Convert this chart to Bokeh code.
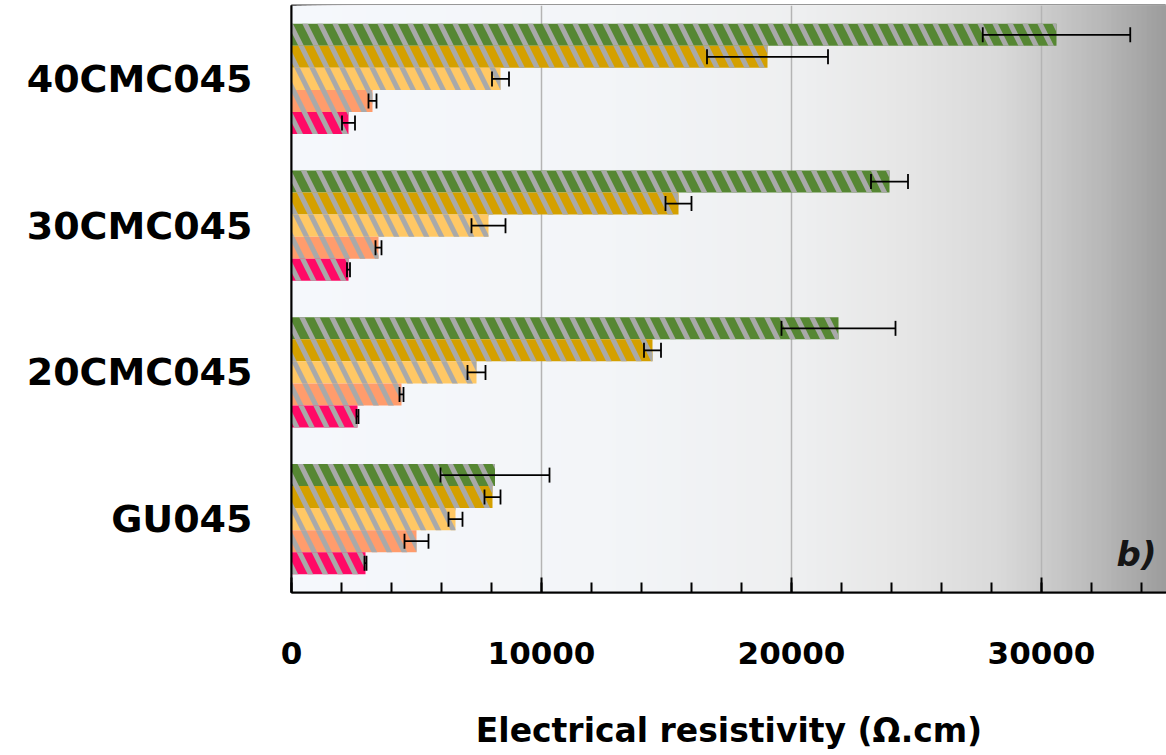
from bokeh.plotting import figure
from bokeh.models import (ColumnDataSource, Whisker, TeeHead, Label, FixedTicker,
                          SingleIntervalTicker, Range1d)
from bokeh.embed import file_html
from bokeh.resources import INLINE

# ---------------- data ----------------
categories = ["GU045", "20CMC045", "30CMC045", "40CMC045"]

series_names = ["Series 1", "Series 2", "Series 3", "Series 4", "Series 5"]
series_colors = ["#568733", "#d4a000", "#ffc865", "#ff9c6c", "#ff0a66"]
series_offsets = [0.30, 0.15, 0.0, -0.15, -0.30]

s1 = [8140, 21880, 23920, 30600]
s1_err = [2180, 2280, 740, 2950]
s2 = [8040, 14440, 15480, 19040]
s2_err = [320, 340, 520, 2420]
s3 = [6560, 7400, 7880, 8360]
s3_err = [280, 360, 680, 340]
s4 = [5000, 4400, 3480, 3240]
s4_err = [480, 80, 120, 160]
s5 = [2960, 2640, 2280, 2280]
s5_err = [40, 40, 60, 260]

values = [s1, s2, s3, s4, s5]
errors = [s1_err, s2_err, s3_err, s4_err, s5_err]

x_ticks_major = [0, 10000, 20000, 30000]
x_max = 35000

# gradient stops for the plot background (fraction, rgb)
grad_stops = [(0.00, (245, 248, 252)), (0.35, (243, 245, 248)), (0.58, (238, 239, 240)),
              (0.70, (230, 230, 230)), (0.81, (217, 217, 217)), (0.856, (205, 205, 205)),
              (0.925, (184, 184, 184)), (1.00, (156, 156, 156))]

# ---------------- figure ----------------
p = figure(width=1166, height=755, output_backend="svg", toolbar_location=None,
           x_range=Range1d(0, x_max), y_range=Range1d(-0.5, len(categories) - 0.5),
           min_border_left=291, min_border_right=0, min_border_top=5, min_border_bottom=163)

p.background_fill_color = "#f5f8fc"
p.border_fill_color = "white"
p.outline_line_color = "#333333"
p.outline_line_width = 2

# background gradient as overlapping quads (each reaches the right edge)
def lerp_color(f):
    for (f0, c0), (f1, c1) in zip(grad_stops[:-1], grad_stops[1:]):
        if f0 <= f <= f1:
            t = (f - f0) / (f1 - f0) if f1 > f0 else 0
            c = [round(a + (b - a) * t) for a, b in zip(c0, c1)]
            return "#%02x%02x%02x" % tuple(c)
    return "#%02x%02x%02x" % grad_stops[-1][1]

n = 175
lefts = [x_max * i / n for i in range(n)]
cols = [lerp_color((i + 0.5) / n) for i in range(n)]
g = p.quad(left=lefts, right=x_max, bottom=-0.5, top=len(categories) - 0.5,
           fill_color=cols, line_color=None)
g.level = "image"

# bars and error bars
for name, col, off, vals, errs in zip(series_names, series_colors, series_offsets, values, errors):
    ys = [i + off for i in range(len(categories))]
    src = ColumnDataSource(dict(y=ys, v=vals, lo=[v - e for v, e in zip(vals, errs)],
                                hi=[v + e for v, e in zip(vals, errs)], cat=categories))
    p.hbar(y="y", left=0, right="v", height=0.15, source=src, fill_color=col, line_color=None,
           hatch_pattern="left_diagonal_line", hatch_color="#a9a9a9", hatch_weight=5,
           hatch_scale=30, name=name)
    w = Whisker(source=src, base="y", lower="lo", upper="hi", dimension="width",
                line_color="black", line_width=1.8,
                upper_head=TeeHead(size=15, line_color="black", line_width=1.8),
                lower_head=TeeHead(size=15, line_color="black", line_width=1.8))
    w.level = "overlay"
    p.add_layout(w)

# "b)" label
p.add_layout(Label(x=34600, y=-0.24, text="b)", text_font="DejaVu Sans",
                   text_font_style="bold italic", text_font_size="34px",
                   text_align="right", text_baseline="alphabetic", text_color="#151515"))

# grid
p.ygrid.grid_line_color = None
p.xgrid.ticker = FixedTicker(ticks=x_ticks_major[1:])
p.xgrid.grid_line_color = "#b4b4b4"
p.xgrid.grid_line_width = 1.5

# x axis
xa = p.xaxis[0]
xa.ticker = SingleIntervalTicker(interval=10000, num_minor_ticks=5)
xa.axis_line_color = "black"
xa.axis_line_width = 2
xa.major_tick_in = 15
xa.major_tick_out = 0
xa.minor_tick_in = 10
xa.minor_tick_out = 0
xa.major_tick_line_color = "black"
xa.minor_tick_line_color = "black"
xa.major_tick_line_width = 2
xa.minor_tick_line_width = 2
xa.major_label_text_font = "DejaVu Sans"
xa.major_label_text_font_style = "bold"
xa.major_label_text_font_size = "31px"
xa.major_label_text_color = "black"
xa.major_label_standoff = 49
xa.axis_label = "Electrical resistivity (\u03a9.cm)"
xa.axis_label_text_font = "DejaVu Sans"
xa.axis_label_text_font_style = "bold"
xa.axis_label_text_font_size = "33px"
xa.axis_label_text_color = "black"
xa.axis_label_standoff = 44

# y axis
ya = p.yaxis[0]
ya.ticker = FixedTicker(ticks=list(range(len(categories))))
ya.major_label_overrides = {i: c for i, c in enumerate(categories)}
ya.axis_line_color = "black"
ya.axis_line_width = 2
ya.major_tick_line_color = None
ya.minor_tick_line_color = None
ya.major_label_text_font = "DejaVu Sans"
ya.major_label_text_font_style = "bold"
ya.major_label_text_font_size = "38px"
ya.major_label_text_color = "black"
ya.major_label_standoff = 33

open("out.html", "w").write(file_html(p, INLINE))
